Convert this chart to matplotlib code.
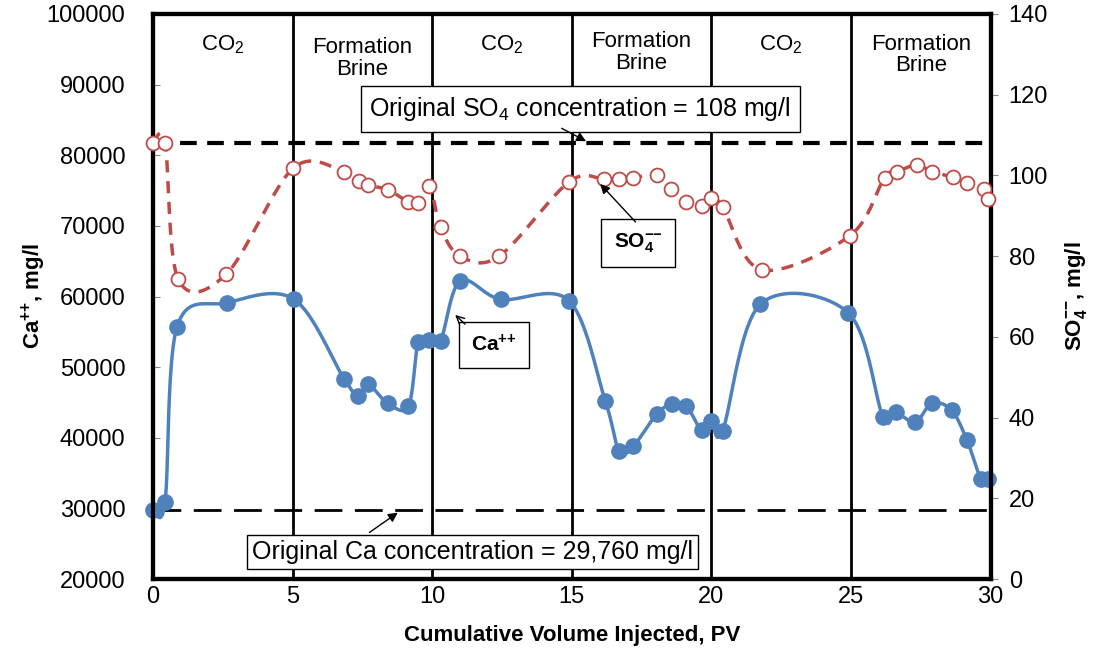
import numpy as np
import matplotlib
matplotlib.use("Agg")
import matplotlib.pyplot as plt

plt.rcParams["font.family"] = ["Liberation Sans", "DejaVu Sans"]
plt.rcParams["mathtext.fontset"] = "custom"
plt.rcParams["mathtext.rm"] = "Liberation Sans"
plt.rcParams["mathtext.bf"] = "Liberation Sans:bold"

# Ca++ concentration (left axis)
ca_pv = [0, 0.43, 0.86, 2.65, 5.05, 6.85, 7.35, 7.7, 8.4, 9.15, 9.5, 9.9, 10.3,
         11.0, 12.45, 14.9, 16.2, 16.7, 17.2, 18.05, 18.6, 19.1, 19.65, 20.0, 20.4,
         21.75, 24.9, 26.15, 26.6, 27.3, 27.9, 28.6, 29.15, 29.65, 29.9]
ca_mgl = [29800, 30900, 55700, 59100, 59600, 48300, 45900, 47600, 44900, 44500, 53600, 53800, 53700,
          62200, 59600, 59400, 45200, 38100, 38800, 43400, 44800, 44500, 41100, 42400, 41000,
          58900, 57700, 42900, 43600, 42200, 44900, 43900, 39700, 34200, 34200]

# SO4-- concentration (right axis)
so4_pv = [0, 0.43, 0.9, 2.63, 5.02, 6.85, 7.36, 7.71, 8.43, 9.15, 9.5, 9.9, 10.3,
          11.0, 12.4, 14.9, 16.15, 16.7, 17.2, 18.05, 18.55, 19.1, 19.65, 20.0, 20.4,
          21.8, 24.95, 26.2, 26.65, 27.35, 27.9, 28.65, 29.15, 29.75, 29.9]
so4_mgl = [108.0, 108.0, 74.3, 75.6, 101.8, 100.9, 98.6, 97.6, 96.4, 93.4, 93.2, 97.4, 87.2,
           80.0, 80.0, 98.4, 99.1, 99.1, 99.4, 100.1, 96.6, 93.4, 92.4, 94.4, 92.2,
           76.6, 85.0, 99.4, 100.9, 102.6, 100.9, 99.6, 98.1, 96.6, 94.2]

ca_orig = 29760
so4_orig = 108
slug_edges = [5, 10, 15, 20, 25]
slug_names = ["CO$_2$", "Formation\nBrine", "CO$_2$", "Formation\nBrine", "CO$_2$", "Formation\nBrine"]
slug_y = [95600, 93700, 95600, 94500, 95600, 94200]


def smooth(x, y, n=24):
    # Catmull-Rom through the points, like a spreadsheet "smoothed line"
    pts = np.column_stack([x, y]).astype(float)
    p = np.vstack([pts[0], pts, pts[-1]])
    t = np.linspace(0, 1, n, endpoint=False)[:, None]
    out = []
    for i in range(1, len(p) - 2):
        p0, p1, p2, p3 = p[i - 1], p[i], p[i + 1], p[i + 2]
        seg = 0.5 * (2 * p1 + (p2 - p0) * t + (2 * p0 - 5 * p1 + 4 * p2 - p3) * t ** 2
                     + (-p0 + 3 * p1 - 3 * p2 + p3) * t ** 3)
        out.append(seg)
    out.append(pts[-1][None])
    s = np.vstack(out)
    return s[:, 0], s[:, 1]


blue = "#4F81BD"
red = "#BE4B48"

fig = plt.figure(figsize=(10.97, 6.57), dpi=100)
ax = fig.add_axes([0.1395, 0.1187, 0.7635, 0.86])
ax2 = ax.twinx()

for e in slug_edges:
    ax.axvline(e, color="black", lw=2, zorder=1)

ax.axhline(ca_orig, color="black", lw=2, dashes=(10, 4.5), zorder=1)
ax2.axhline(so4_orig, color="black", lw=3, dashes=(4, 2.5), zorder=1)

sx, sy = smooth(ca_pv, ca_mgl)
ax.plot(sx, sy, color=blue, lw=2.5, zorder=3)
ax.plot(ca_pv, ca_mgl, "o", color=blue, ms=11, zorder=4, clip_on=False)

rx, ry = smooth(so4_pv, so4_mgl)
ax2.plot(rx, ry, color=red, lw=2.5, dashes=(3.5, 2.5), zorder=3)
ax2.plot(so4_pv, so4_mgl, "o", mfc="white", mec=red, mew=1.3, ms=10, zorder=4, clip_on=False)

ax.set_xlim(0, 30)
ax.set_ylim(20000, 100000)
ax2.set_ylim(0, 140)
ax.set_xticks(range(0, 31, 5))
ax.set_yticks(range(20000, 100001, 10000))
ax2.set_yticks(range(0, 141, 20))

for a in (ax, ax2):
    for s in a.spines.values():
        s.set_linewidth(3)
ax.tick_params(axis="y", direction="in", length=5, color="#888888", labelsize=17, pad=20)
ax.tick_params(axis="x", length=0, labelsize=17, pad=5)
ax2.tick_params(axis="y", direction="out", length=5, color="#888888", labelsize=17, pad=8)

ax.set_xlabel("Cumulative Volume Injected, PV", fontsize=16, fontweight="bold", labelpad=12)
ax.set_ylabel(r"Ca$^{\mathbf{{+}{+}}}$, mg/l", fontsize=16, fontweight="bold")
ax2.set_ylabel(r"SO$_{\mathbf{4}}^{\mathbf{{-}{-}}}$, mg/l", fontsize=16, fontweight="bold")
ax.yaxis.set_label_coords(-0.125, 0.5)
ax2.yaxis.set_label_coords(1.087, 0.5)

# slug labels along the top
for i, name in enumerate(slug_names):
    ax.text(i * 5 + 2.5, slug_y[i], name, ha="center", va="center", fontsize=16,
            linespacing=1.05, zorder=5)

tr = ax.transData
arrow = dict(arrowstyle="-|>", color="black", lw=1, mutation_scale=14)

ax2.text(15.3, 86550, "Original SO$_4$ concentration = 108 mg/l", transform=tr,
         ha="center", va="center", fontsize=18,
         bbox=dict(boxstyle="square,pad=0.35", fc="white", ec="black", lw=1), zorder=6)
ax2.annotate("", xy=(15.6, 81800), xytext=(14.55, 84000), xycoords=tr, textcoords=tr,
             arrowprops=arrow, zorder=6)

ax2.text(11.43, 23800, "Original Ca concentration = 29,760 mg/l", transform=tr,
         ha="center", va="center", fontsize=18,
         bbox=dict(boxstyle="square,pad=0.2", fc="white", ec="black", lw=1), zorder=6)
ax2.annotate("", xy=(8.85, 29630), xytext=(7.67, 26370), xycoords=tr, textcoords=tr,
             arrowprops=arrow, zorder=6)

ax2.text(17.38, 67580, r"$\mathbf{SO_4^{{-}{-}}}$", transform=tr, ha="center", va="center",
         fontsize=15, bbox=dict(boxstyle="square,pad=0.6", fc="white", ec="black", lw=1), zorder=6)
ax2.annotate("", xy=(15.95, 76220), xytext=(17.35, 70270), xycoords=tr, textcoords=tr,
             arrowprops=arrow, zorder=6)

ax2.text(12.22, 53130, r"$\mathbf{Ca^{{+}{+}}}$", transform=tr, ha="center", va="center",
         fontsize=15, bbox=dict(boxstyle="square,pad=0.6", fc="white", ec="black", lw=1), zorder=6)
ax2.annotate("", xy=(10.75, 57660), xytext=(11.25, 55820), xycoords=tr, textcoords=tr,
             arrowprops=dict(arrowstyle="->", color="black", lw=1, mutation_scale=14), zorder=6)

fig.savefig("out.png", dpi=100)
